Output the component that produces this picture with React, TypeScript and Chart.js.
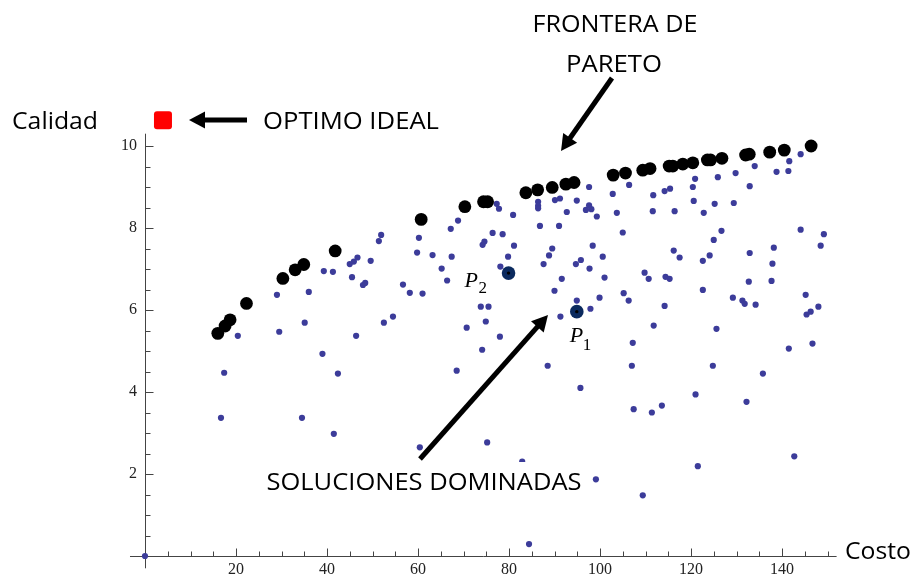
import React, { useEffect, useRef } from "react";
import { Chart, registerables } from "chart.js";

Chart.register(...registerables);

// ---------------- data (Costo, Calidad) ----------------
const dominated: [number, number][] = [
  [0, 0],
  [20.4, 5.37], [29.0, 6.37], [29.5, 5.47], [35.1, 5.69], [36.0, 6.44], [39.3, 6.95], [41.3, 6.93],
  [45.0, 7.12], [45.9, 7.18], [46.7, 7.28], [45.5, 6.8], [47.9, 6.61], [48.4, 6.66], [49.6, 7.2],
  [51.4, 7.68], [51.9, 7.83], [52.5, 5.69], [46.4, 5.37],
  [17.4, 4.47], [16.7, 3.37], [39.0, 4.93], [42.4, 4.45], [34.5, 3.37], [41.5, 2.98],
  [60.2, 7.76], [59.8, 7.4], [63.2, 7.34], [67.4, 7.3], [67.2, 7.98], [68.8, 8.18], [65.2, 7.01],
  [66.4, 6.72], [56.7, 6.62], [58.2, 6.42], [61.0, 6.4], [54.5, 5.84], [70.7, 5.57], [73.8, 6.08],
  [75.5, 6.08], [74.9, 5.72], [78.0, 5.35], [78.1, 7.06], [79.8, 7.3], [81.1, 7.57], [78.6, 7.85],
  [76.4, 7.88], [74.2, 7.59], [74.6, 7.67], [77.3, 8.59], [77.8, 8.47], [80.9, 8.32], [86.4, 8.64],
  [86.4, 8.54], [86.4, 8.48], [90.1, 8.68], [91.2, 8.72], [86.8, 8.05], [91.0, 8.05], [92.7, 8.39],
  [94.9, 8.67], [97.6, 9.0], [96.9, 8.44], [97.6, 8.55], [98.1, 8.46], [99.3, 8.28], [89.5, 7.5],
  [88.8, 7.33], [87.6, 7.12], [94.7, 7.12], [95.8, 7.22], [98.4, 7.57], [100.6, 7.3], [97.7, 7.01],
  [101.0, 6.79], [91.6, 6.76], [90.0, 6.47], [94.9, 6.23], [97.9, 6.03], [99.9, 6.3], [105.2, 6.41],
  [106.3, 6.23], [105.0, 7.89], [103.7, 8.37], [102.8, 8.83], [106.4, 9.05], [91.3, 5.84],
  [74.1, 5.03], [68.5, 4.52], [88.5, 4.64], [95.7, 4.1], [107.2, 5.2], [107.0, 4.64], [107.4, 3.58],
  [60.4, 2.65], [75.2, 2.77], [82.9, 2.3], [99.1, 1.87], [84.4, 0.29],
  [109.4, 1.48], [111.4, 3.5], [113.6, 3.67], [121.0, 3.94], [121.5, 2.19], [124.8, 4.64], [132.2, 3.76],
  [135.8, 4.45], [141.5, 5.06], [146.7, 5.18], [142.7, 2.43],
  [111.7, 8.8], [114.2, 8.9], [115.4, 8.96], [120.4, 9.0], [120.9, 9.2], [125.9, 9.24], [129.8, 9.34],
  [134.0, 9.51], [132.9, 9.02], [138.8, 9.37], [141.4, 9.39], [141.6, 9.63], [144.1, 9.8], [111.6, 8.41],
  [116.4, 8.41], [120.6, 8.66], [125.2, 8.59], [129.4, 8.61], [122.8, 8.37], [116.2, 7.45], [117.5, 7.28],
  [122.6, 7.2], [124.1, 7.33], [125.0, 7.71], [126.7, 7.93], [132.9, 7.39], [138.2, 7.52], [137.9, 7.13],
  [137.7, 6.71], [144.1, 7.96], [149.2, 7.85], [148.5, 7.57], [109.8, 6.91], [110.7, 6.76], [114.4, 6.81],
  [115.3, 6.76], [114.2, 6.1], [111.8, 5.62], [122.6, 6.49], [125.6, 5.54], [129.2, 6.3], [131.3, 6.23],
  [131.8, 6.15], [134.2, 6.13], [132.7, 6.69], [145.2, 6.37], [148.0, 6.08], [145.4, 5.89], [146.3, 5.96],
];

const pareto: [number, number][] = [
  [16.0, 5.43], [17.6, 5.61], [18.7, 5.76], [22.3, 6.16], [30.3, 6.77], [33.0, 6.98], [34.9, 7.11],
  [41.8, 7.44], [60.7, 8.21], [70.3, 8.52], [74.4, 8.64], [75.3, 8.64], [83.7, 8.86], [86.3, 8.93],
  [89.5, 8.99], [92.5, 9.07], [94.3, 9.11], [102.9, 9.29], [105.6, 9.34], [109.4, 9.41], [111.0, 9.45],
  [115.2, 9.51], [116.0, 9.51], [118.2, 9.56], [120.4, 9.59], [123.6, 9.66], [124.3, 9.66], [126.8, 9.7],
  [132.0, 9.78], [132.8, 9.8], [137.3, 9.85], [140.5, 9.9], [146.4, 10.0],
];

const markedPoints: [number, number][] = [[94.9, 5.96], [79.9, 6.9]];
const markedNames = ["1", "2"];
const idealPoint: [number, number] = [3.95, 10.63];

const xTicks = [20, 40, 60, 80, 100, 120, 140];
const yTicks = [2, 4, 6, 8, 10];
const xMinorStep = 5;
const yMinorStep = 0.5;
const xScaleRange = [0, 152];
const yScaleRange = [0, 10.3];
const xAxisExtent = [-3.3, 152];
const yAxisExtent = [-0.3, 10.3];

// ---------------- layout / style (annotations) ----------------
const AXIS_COLOR = "#444";
const SANS = '"Open Sans", "DejaVu Sans", sans-serif';
const SERIF = '"Liberation Serif", "DejaVu Serif", serif';
const IDEAL_SIZE = 18;

const textNotes = [
  { text: "Calidad", x: 12, y: 129, w: 86, bg: false },
  { text: "OPTIMO IDEAL", x: 263, y: 128.5, w: 176, bg: false },
  { text: "FRONTERA DE", x: 532.5, y: 31.5, w: 165, bg: false },
  { text: "PARETO", x: 566, y: 71.5, w: 96, bg: false },
  { text: "SOLUCIONES DOMINADAS", x: 266.5, y: 490, w: 315, bg: true },
  { text: "Costo", x: 845, y: 559, w: 66, bg: false },
];

const arrows = [
  { from: [247, 120], to: [189, 120] },
  { from: [612, 78], to: [561, 151] },
  { from: [420, 459], to: [548, 315] },
];

// offsets of the P labels from their points
const markLabelOffsets = [
  { dx: -7, dy: 30, sdx: 6, sdy: 38 },
  { dx: -44, dy: 13.5, sdx: -30, sdy: 19.5 },
];

function drawFitText(ctx: CanvasRenderingContext2D, text: string, x: number, y: number, w: number, size: number) {
  ctx.font = `${size}px ${SANS}`;
  const m = ctx.measureText(text).width;
  ctx.save();
  ctx.translate(x, y);
  ctx.scale(w / m, 1);
  ctx.fillText(text, 0, 0);
  ctx.restore();
}

function drawArrow(ctx: CanvasRenderingContext2D, from: number[], to: number[]) {
  const dx = to[0] - from[0];
  const dy = to[1] - from[1];
  const len = Math.hypot(dx, dy);
  const ux = dx / len, uy = dy / len;
  const px = -uy, py = ux;
  const headLen = 16, headW = 8.5;
  const bx = to[0] - ux * headLen, by = to[1] - uy * headLen;
  ctx.save();
  ctx.strokeStyle = "#000";
  ctx.fillStyle = "#000";
  ctx.lineWidth = 5;
  ctx.lineCap = "butt";
  ctx.beginPath();
  ctx.moveTo(from[0], from[1]);
  ctx.lineTo(bx + ux * 2, by + uy * 2);
  ctx.stroke();
  ctx.beginPath();
  ctx.moveTo(to[0], to[1]);
  ctx.lineTo(bx + px * headW, by + py * headW);
  ctx.lineTo(bx - px * headW, by - py * headW);
  ctx.closePath();
  ctx.fill();
  ctx.restore();
}

const decorPlugin = {
  id: "paretoDecor",
  beforeDatasetsDraw(chart: any) {
    const ctx: CanvasRenderingContext2D = chart.ctx;
    const xs = chart.scales.x;
    const ys = chart.scales.y;
    const x0 = Math.round(xs.getPixelForValue(0)) + 0.5;
    const y0 = Math.round(ys.getPixelForValue(0)) + 0.5;
    ctx.save();
    ctx.strokeStyle = AXIS_COLOR;
    ctx.lineWidth = 1;
    ctx.beginPath();
    ctx.moveTo(xs.getPixelForValue(xAxisExtent[0]), y0);
    ctx.lineTo(xs.getPixelForValue(xAxisExtent[1]), y0);
    ctx.moveTo(x0, ys.getPixelForValue(yAxisExtent[0]));
    ctx.lineTo(x0, ys.getPixelForValue(yAxisExtent[1]));
    for (let i = 1; i * xMinorStep <= xAxisExtent[1]; i++) {
      const v = i * xMinorStep;
      const major = xTicks.some((t) => Math.abs(t - v) < 1e-6);
      const p = Math.round(xs.getPixelForValue(v)) + 0.5;
      ctx.moveTo(p, y0);
      ctx.lineTo(p, y0 - (major ? 8 : 5));
    }
    for (let i = 1; i * yMinorStep <= yAxisExtent[1]; i++) {
      const v = i * yMinorStep;
      const major = yTicks.some((t) => Math.abs(t - v) < 1e-6);
      const p = Math.round(ys.getPixelForValue(v)) + 0.5;
      ctx.moveTo(x0, p);
      ctx.lineTo(x0 + (major ? 8 : 5), p);
    }
    ctx.stroke();
    ctx.restore();
  },
  afterDatasetsDraw(chart: any) {
    // ideal optimum lies above the plotted range, so Chart.js skips it: draw it from the scales
    const ctx: CanvasRenderingContext2D = chart.ctx;
    const cx = chart.scales.x.getPixelForValue(idealPoint[0]);
    const cy = chart.scales.y.getPixelForValue(idealPoint[1]);
    const h = IDEAL_SIZE / 2;
    ctx.save();
    ctx.fillStyle = "#ff0000";
    ctx.beginPath();
    (ctx as any).roundRect(cx - h, cy - h, IDEAL_SIZE, IDEAL_SIZE, 3);
    ctx.fill();
    ctx.restore();
  },
  afterDraw(chart: any) {
    const ctx: CanvasRenderingContext2D = chart.ctx;
    const xs = chart.scales.x;
    const ys = chart.scales.y;
    ctx.save();
    ctx.textAlign = "left";
    ctx.textBaseline = "alphabetic";
    for (const t of textNotes) {
      if (t.bg) {
        ctx.fillStyle = "#fff";
        ctx.fillRect(t.x, t.y - 28, t.w + 4, 33);
      }
      ctx.fillStyle = "#000";
      drawFitText(ctx, t.text, t.x, t.y, t.w, 24);
    }
    markedPoints.forEach((pt, i) => {
      const px = xs.getPixelForValue(pt[0]);
      const py = ys.getPixelForValue(pt[1]);
      const o = markLabelOffsets[i];
      ctx.fillStyle = "#000";
      ctx.font = `italic 22px ${SERIF}`;
      ctx.fillText("P", px + o.dx, py + o.dy);
      ctx.font = `17px ${SERIF}`;
      ctx.fillText(markedNames[i], px + o.sdx, py + o.sdy);
    });
    ctx.restore();
    for (const a of arrows) drawArrow(ctx, a.from, a.to);
  },
};

export default function App() {
  const ref = useRef<HTMLCanvasElement | null>(null);
  useEffect(() => {
    if (!ref.current) return;
    const toPts = (arr: [number, number][]) => arr.map(([x, y]) => ({ x, y }));
    const chart = new Chart(ref.current, {
      type: "scatter",
      data: {
        datasets: [
          {
            label: "P centros",
            data: toPts(markedPoints),
            pointRadius: 1.7,
            pointBackgroundColor: "#000",
            pointBorderWidth: 0,
            clip: false,
            order: 0,
          },
          {
            label: "P",
            data: toPts(markedPoints),
            pointRadius: 6.8,
            pointBackgroundColor: "#0b2a5e",
            pointBorderWidth: 0,
            clip: false,
            order: 1,
          },
          {
            label: "Frontera de Pareto",
            data: toPts(pareto),
            pointRadius: 6.4,
            pointBackgroundColor: "#000",
            pointBorderWidth: 0,
            clip: false,
            order: 2,
          },
          {
            label: "Soluciones dominadas",
            data: toPts(dominated),
            pointRadius: 3.1,
            pointBackgroundColor: "#3c3c9a",
            pointBorderWidth: 0,
            clip: false,
            order: 4,
          },
        ],
      },
      options: {
        animation: false,
        responsive: false,
        devicePixelRatio: 1,
        events: [],
        layout: { padding: { left: 0, top: 133.7, right: 75.4, bottom: 0 } },
        plugins: { legend: { display: false }, tooltip: { enabled: false } },
        scales: {
          x: {
            type: "linear",
            position: "bottom",
            min: xScaleRange[0],
            max: xScaleRange[1],
            grid: { display: false, drawTicks: false },
            border: { display: false },
            afterBuildTicks: (s: any) => {
              s.ticks = xTicks.map((v) => ({ value: v }));
            },
            afterFit: (s: any) => {
              s.height = 24;
            },
            ticks: {
              autoSkip: false,
              maxRotation: 0,
              padding: 4,
              color: "#222",
              font: { family: SERIF, size: 16 },
            },
          },
          y: {
            type: "linear",
            position: "left",
            min: yScaleRange[0],
            max: yScaleRange[1],
            grid: { display: false, drawTicks: false },
            border: { display: false },
            afterBuildTicks: (s: any) => {
              s.ticks = yTicks.map((v) => ({ value: v }));
            },
            afterFit: (s: any) => {
              s.width = 145;
            },
            ticks: {
              autoSkip: false,
              padding: 8,
              color: "#222",
              font: { family: SERIF, size: 16 },
            },
          },
        },
      },
      plugins: [decorPlugin],
    });
    return () => chart.destroy();
  }, []);
  return (
    <div style={{ position: "fixed", left: 0, top: 0, width: 912, height: 580, background: "#fff" }}>
      <canvas ref={ref} width={912} height={580} style={{ display: "block", width: 912, height: 580 }} />
    </div>
  );
}
